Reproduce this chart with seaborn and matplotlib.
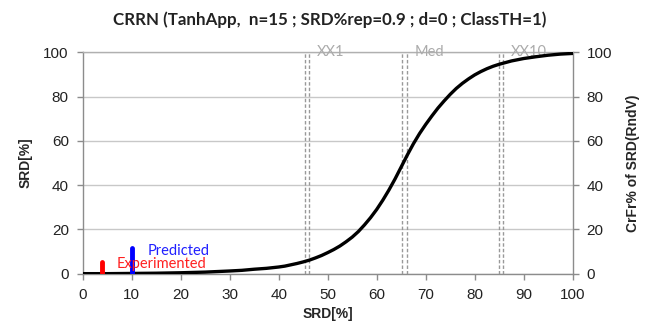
import matplotlib
matplotlib.use("Agg")
import matplotlib.pyplot as plt
import seaborn as sns
import pandas as pd

# ---- data ----
curve_x = [0, 5, 10, 15, 20, 25, 30, 32.5, 35, 37.5, 40, 41.25, 42.5, 43.75, 45, 46.25, 47.5,
           48.75, 50, 51.25, 52.5, 53.75, 55, 56.25, 57.5, 58.75, 60, 61.25, 62.5, 63.75, 65,
           66.25, 67.5, 68.75, 70, 71.25, 72.5, 73.75, 75, 76.25, 77.5, 78.75, 80, 81.25, 82.5,
           83.75, 85, 87.5, 90, 92.5, 95, 97.5, 100]
curve_y = [0, 0, 0.1, 0.2, 0.4, 0.7, 1.2, 1.5, 2.0, 2.4, 3.0, 3.4, 4.0, 4.6, 5.3, 6.1, 7.1,
           8.2, 9.5, 10.9, 12.5, 14.4, 16.5, 19.0, 22.0, 25.3, 29.0, 33.2, 37.8, 42.8, 48.2,
           53.6, 58.7, 63.3, 67.4, 71.2, 74.8, 78.0, 81.0, 83.7, 86.0, 88.0, 89.8, 91.3, 92.6,
           93.7, 94.6, 96.1, 97.2, 98.0, 98.7, 99.2, 99.5]

exp_x = [4.0]
exp_y = [5.1]
pred_x = [10.1]
pred_y = [11.4]

marker_names = ["XX1", "Med", "XX10"]
marker_lo = [45.4, 65.2, 85.0]
marker_hi = [46.2, 66.1, 85.8]

x_ticks = [0, 10, 20, 30, 40, 50, 60, 70, 80, 90, 100]
y_ticks = [0, 20, 40, 60, 80, 100]

title = "CRRN (TanhApp,  n=15 ; SRD%rep=0.9 ; d=0 ; ClassTH=1)"

# ---- plot ----
sns.set_theme(style="white")
plt.rcParams['font.family'] = ['Liberation Sans', 'DejaVu Sans']

fig = plt.figure(figsize=(6.46, 3.25), dpi=100)
ax = fig.add_axes([0.128, 0.158, 0.7585, 0.681])

df = pd.DataFrame({"x": curve_x, "y": curve_y})
sns.lineplot(data=df, x="x", y="y", ax=ax, color="black", linewidth=2.4, zorder=5,
             solid_joinstyle="round", solid_capstyle="round")

ax.set_xlim(0, 100)
ax.set_ylim(0, 100)
ax.set_xticks(x_ticks)
ax.set_yticks(y_ticks)
ax.yaxis.grid(True, color="#c8c8c8", linewidth=1.0)
ax.set_axisbelow(True)

for side in ["left", "right", "bottom", "top"]:
    ax.spines[side].set_color("#8c8c8c")
    ax.spines[side].set_linewidth(1.0)
ax.spines["top"].set_color("#b0b0b0")

ax.tick_params(axis="both", which="both", direction="out", length=4, width=1,
               color="#8c8c8c", labelsize=11, labelcolor="#222222", pad=6)
ax.tick_params(axis="x", bottom=True)
ax.tick_params(axis="y", left=True)

# vertical double dashed markers
for name, lo, hi in zip(marker_names, marker_lo, marker_hi):
    for v in (lo, hi):
        ax.axvline(v, color="#999999", linestyle=(0, (2.5, 1.5)), linewidth=1.0, zorder=3)
    ax.text(hi + 1.6, 100, name, color="#ababab", fontsize=10.5, family=["Lato", "DejaVu Sans"],
            ha="left", va="center", zorder=4)

# experimented / predicted bars
ax.vlines(exp_x, 0, exp_y, color="#ff0000", linewidth=3.5, zorder=6, capstyle="round")
ax.vlines(pred_x, 0, pred_y, color="#0000ff", linewidth=3.5, zorder=6, capstyle="round")
ax.text(13.3, 10.3, "Predicted", color="#2020ff", fontsize=10.5, family=["Lato", "DejaVu Sans"],
        ha="left", va="center", zorder=7)
ax.text(6.9, 4.3, "Experimented", color="#ff2020", fontsize=10.5, family=["Lato", "DejaVu Sans"],
        ha="left", va="center", zorder=7)

ax.set_xlabel("SRD[%]", fontsize=10, fontweight="bold", labelpad=4)
ax.set_ylabel("SRD[%]", fontsize=10, fontweight="bold", labelpad=8)

ax2 = ax.twinx()
ax2.set_ylim(0, 100)
ax2.set_yticks(y_ticks)
ax2.tick_params(axis="y", direction="out", length=4, width=1, color="#8c8c8c",
                labelsize=11, labelcolor="#222222", pad=6)
for side in ["left", "right", "bottom", "top"]:
    ax2.spines[side].set_visible(False)
ax2.set_ylabel("CrFr% of SRD(RndV)", fontsize=10, fontweight="bold", labelpad=10)

fig.text(0.511, 0.938, title, ha="center", va="center", fontsize=12.2, fontweight="bold",
         family=["Lato", "DejaVu Sans"], color="#222222")

fig.savefig("out.png", dpi=100, facecolor="white")
